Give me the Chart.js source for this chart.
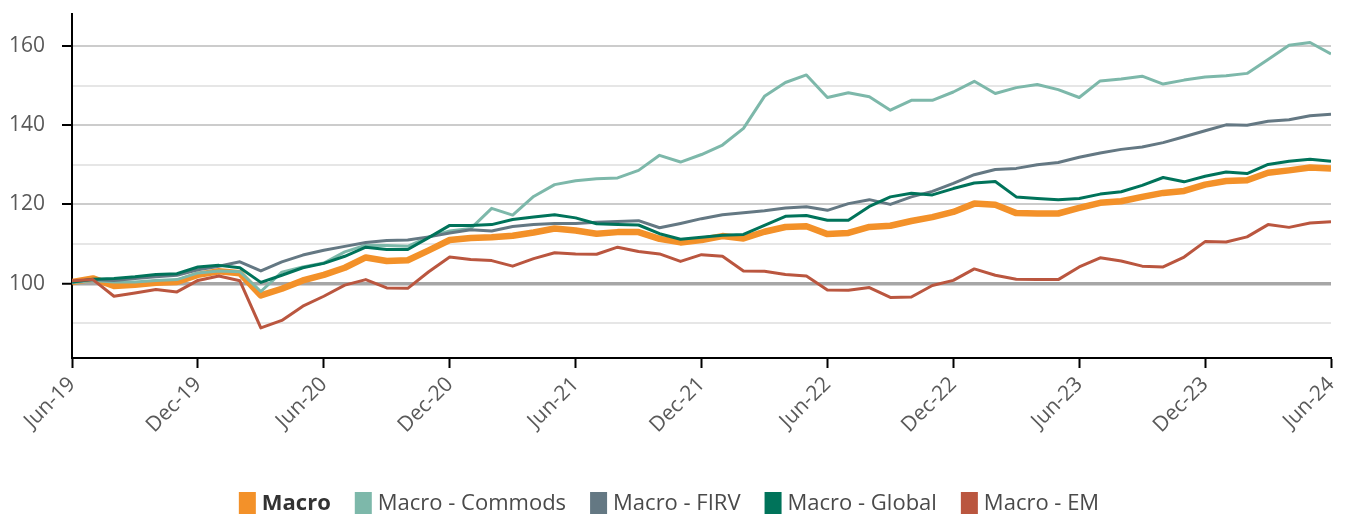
<!doctype html>
<html lang="en">
  <head>
    <meta charset="utf-8">
    <title>Macro</title>
    <script src="https://cdn.jsdelivr.net/npm/chart.js@4.4.1/dist/chart.umd.min.js"></script>
    <style>
      body { margin: 0; background: #fff; }
      #wrap { width: 1346px; height: 515px; position: relative; }
    </style>
  </head>
  <body>
    <div id="wrap"><canvas id="grafica"></canvas></div>

  <script>
    // month labels, Jun-19 .. Jun-24
    const mesesNombre = ['Jan','Feb','Mar','Apr','May','Jun','Jul','Aug','Sep','Oct','Nov','Dec'];
    let meses = [];
    for (let i = 0; i <= 60; i++) {
      let m = (5 + i) % 12;
      let a = 19 + Math.floor((5 + i) / 12);
      meses.push(mesesNombre[m] + '-' + a);
    }

    let macro = [100.4,101.3,99.4,99.7,100.2,100.4,102.2,103.1,102.6,97.0,
      98.7,100.8,102.2,104.0,106.6,105.7,105.9,108.4,111.0,111.5,
      111.7,112.1,112.9,113.9,113.4,112.6,113.0,113.0,111.3,110.4,
      111.0,112.0,111.4,113.1,114.3,114.5,112.5,112.8,114.3,114.6,
      115.8,116.8,118.1,120.2,119.9,117.8,117.7,117.7,119.1,120.4,
      120.8,121.9,122.9,123.4,125.0,125.9,126.1,128.0,128.6,129.3,129.1];

    let commods = [100.2,100.8,100.4,100.4,100.8,101.0,102.7,103.2,103.0,98.0,
      102.9,104.2,105.2,108.0,109.7,109.6,109.4,111.8,113.3,113.9,
      119.0,117.3,122.0,125.0,126.0,126.5,126.7,128.6,132.4,130.7,
      132.6,135.0,139.2,147.3,150.8,152.7,147.0,148.2,147.2,143.8,
      146.3,146.3,148.4,151.1,148.0,149.5,150.3,149.0,147.0,151.2,
      151.7,152.4,150.4,151.4,152.2,152.5,153.1,156.6,160.2,160.9,158.0];

    let firv = [100.4,101.0,100.8,101.3,101.7,102.1,103.5,104.4,105.5,103.2,
      105.5,107.2,108.4,109.4,110.4,110.9,111.0,111.8,112.8,113.6,
      113.3,114.4,114.9,115.2,115.2,115.5,115.7,115.9,114.1,115.2,
      116.4,117.4,117.9,118.4,119.1,119.4,118.5,120.2,121.2,120.0,
      121.9,123.3,125.3,127.5,128.8,129.1,130.0,130.6,131.9,133.0,
      133.9,134.5,135.6,137.1,138.6,140.1,140.0,141.0,141.4,142.4,142.8];

    let global = [100.4,101.1,101.3,101.7,102.3,102.5,104.2,104.6,104.0,100.3,
      102.1,104.0,105.1,106.9,109.2,108.6,108.6,111.6,114.7,114.7,
      114.9,116.2,116.8,117.4,116.6,115.1,114.9,114.8,112.6,111.2,
      111.7,112.2,112.4,114.7,117.0,117.2,116.0,116.0,119.5,121.9,
      122.8,122.4,124.0,125.4,125.8,121.9,121.5,121.2,121.5,122.6,
      123.2,124.8,126.8,125.7,127.1,128.2,127.8,130.1,130.9,131.4,130.9];

    let em = [100.7,101.0,96.8,97.6,98.5,97.9,100.8,101.9,100.7,88.8,
      90.7,94.3,96.8,99.6,101.0,98.9,98.8,103.0,106.7,106.1,
      105.8,104.4,106.3,107.8,107.5,107.4,109.2,108.1,107.5,105.6,
      107.3,106.9,103.2,103.1,102.3,101.9,98.4,98.3,99.0,96.5,
      96.6,99.5,100.8,103.7,102.1,101.1,101.0,101.0,104.2,106.5,
      105.7,104.4,104.2,106.7,110.6,110.5,111.8,114.9,114.2,115.3,115.6];

    let yTicks = [90,100,110,120,130,140,150,160];
    let yLabels = [100,120,140,160];

    const fuente = "'Open Sans', sans-serif";
    const puntos = arr => arr.map((v, i) => ({x: i, y: v}));

    // legend drawn by hand so the first entry can be bold
    const leyenda = {
      id: 'leyenda',
      afterDraw(chart) {
        const ctx = chart.ctx;
        const caja = 17, altoCaja = 22, gap1 = 6, gap2 = 24, yc = 503;
        const items = chart.data.datasets.map((d, i) => ({
          text: d.label, color: d.borderColor,
          font: (i === 0 ? '700 22px ' : '400 22px ') + fuente,
          fc: i === 0 ? '#333333' : '#4a4a4a'
        }));
        let total = 0;
        items.forEach(it => {
          ctx.font = it.font;
          it.w = ctx.measureText(it.text).width;
          total += caja + gap1 + it.w;
        });
        total += gap2 * (items.length - 1);
        let x = (chart.width - total) / 2 - 4;
        ctx.save();
        ctx.textBaseline = 'middle';
        items.forEach(it => {
          ctx.fillStyle = it.color;
          ctx.fillRect(x, yc - altoCaja / 2, caja, altoCaja);
          x += caja + gap1;
          ctx.font = it.font;
          ctx.fillStyle = it.fc;
          ctx.fillText(it.text, x, yc + 1);
          x += it.w + gap2;
        });
        ctx.restore();
      }
    };

    let canvas = document.getElementById('grafica').getContext('2d');

    var chart = new Chart(canvas, {
      type: 'line',
      data: {
        datasets: [
          {label: 'Macro', data: puntos(macro), borderColor: '#F39129', borderWidth: 6.5, order: 5},
          {label: 'Macro - Commods', data: puntos(commods), borderColor: '#7DB8AA', borderWidth: 3, order: 4},
          {label: 'Macro - FIRV', data: puntos(firv), borderColor: '#647883', borderWidth: 3, order: 3},
          {label: 'Macro - Global', data: puntos(global), borderColor: '#00735A', borderWidth: 3, order: 2},
          {label: 'Macro - EM', data: puntos(em), borderColor: '#BA563F', borderWidth: 3, order: 1}
        ]
      },
      options: {
        responsive: true,
        maintainAspectRatio: false,
        animation: false,
        elements: {
          point: {radius: 0},
          line: {tension: 0, borderJoinStyle: 'round', borderCapStyle: 'butt'}
        },
        layout: {padding: {left: 0, right: 15, top: 14, bottom: 67}},
        plugins: {
          legend: {display: false},
          tooltip: {enabled: false}
        },
        scales: {
          x: {
            type: 'linear',
            min: 0,
            max: 60,
            border: {color: '#000', width: 2},
            grid: {drawOnChartArea: false, drawTicks: true, tickLength: 10, tickColor: '#000', tickWidth: 2},
            ticks: {
              stepSize: 6,
              autoSkip: false,
              maxRotation: 45,
              minRotation: 45,
              padding: 4,
              color: '#595959',
              font: {family: fuente, size: 21},
              callback: v => meses[v]
            },
            afterFit: s => { s.height = 90; s.paddingLeft = 0; s.paddingRight = 0; }
          },
          y: {
            min: 81.2,
            max: 168.1,
            border: {color: '#000', width: 2},
            afterBuildTicks: s => { s.ticks = yTicks.map(v => ({value: v})); },
            grid: {
              color: c => c.tick.value === 100 ? '#a6a6a6' : (yLabels.includes(c.tick.value) ? '#cccccc' : '#e6e6e6'),
              lineWidth: c => c.tick.value === 100 ? 3.5 : 2,
              tickLength: 10,
              tickColor: c => yLabels.includes(c.tick.value) ? '#000' : 'rgba(0,0,0,0)',
              tickWidth: 2
            },
            ticks: {
              padding: 17,
              color: '#595959',
              font: {family: fuente, size: 21},
              callback: v => yLabels.includes(v) ? String(v) : ''
            },
            afterFit: s => { s.width = 72; s.paddingTop = 0; s.paddingBottom = 0; }
          }
        }
      },
      plugins: [leyenda]
    });
  </script>
  </body>
</html>
